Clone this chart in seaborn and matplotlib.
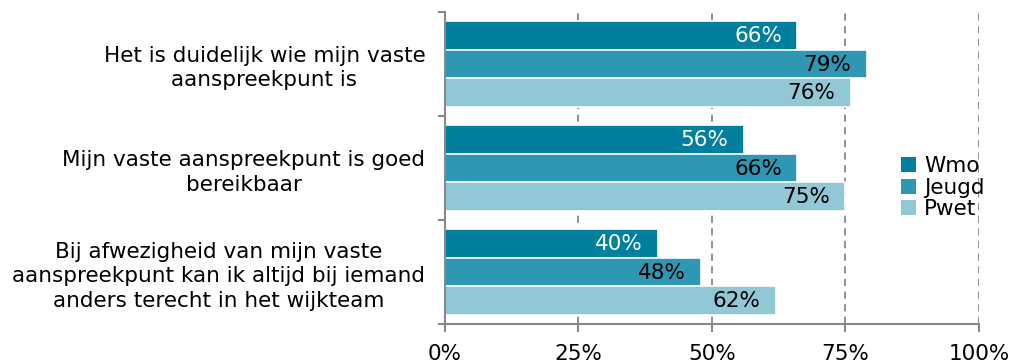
import matplotlib
matplotlib.use("Agg")
import matplotlib.pyplot as plt
import seaborn as sns
import pandas as pd
import numpy as np
from matplotlib.patches import Patch

categories = [
    "Het is duidelijk wie mijn vaste\naanspreekpunt is",
    "Mijn vaste aanspreekpunt is goed\nbereikbaar",
    "Bij afwezigheid van mijn vaste\naanspreekpunt kan ik altijd bij iemand\nanders terecht in het wijkteam",
]
series = ["Wmo", "Jeugd", "Pwet"]
wmo = [66, 56, 40]
jeugd = [79, 66, 48]
pwet = [76, 75, 62]
colors = ["#007F9E", "#2E97B4", "#92C7D5"]
label_colors = ["white", "black", "black"]
xticks = [0, 25, 50, 75, 100]
xticklabels = ["0%", "25%", "50%", "75%", "100%"]

rows = []
for s, vals in zip(series, [wmo, jeugd, pwet]):
    for c, v in zip(categories, vals):
        rows.append({"cat": c, "series": s, "value": v})
df = pd.DataFrame(rows)

sns.set_theme(style="white")
plt.rcParams["font.family"] = ["DejaVu Sans"]
FS = 15.5

fig = plt.figure(figsize=(10.13, 3.63), dpi=100)
ax = fig.add_axes([0.439, 0.107, 0.5275, 0.860])

sns.barplot(data=df, y="cat", x="value", hue="series", order=categories,
            hue_order=series, palette=colors, orient="h", width=0.82,
            edgecolor="white", linewidth=1.2, saturation=1, ax=ax, legend=False)

for cont, lc in zip(ax.containers, label_colors):
    for rect, v in zip(cont.patches, cont.datavalues):
        ax.annotate(f"{v:.0f}%", xy=(rect.get_x() + rect.get_width(),
                                    rect.get_y() + rect.get_height() / 2),
                    xytext=(-11, -0.5), textcoords="offset points",
                    ha="right", va="center", color=lc, fontsize=FS)

ax.set_xlim(0, 100)
ax.set_ylim(2.5, -0.5)
ax.set_xticks(xticks)
ax.set_xticklabels(xticklabels, fontsize=FS, color="black")
ax.set_yticks(range(len(categories)))
ax.set_yticklabels(categories, fontsize=FS, color="black", ha="right",
                   multialignment="center", linespacing=1.28)
for t in ax.get_yticklabels():
    t.set_y(t.get_position()[1])
ax.tick_params(axis="y", which="major", length=0, pad=14)
ax.set_yticks([-0.5, 0.5, 1.5, 2.5], minor=True)
ax.tick_params(axis="y", which="minor", length=5, color="#888888", width=1.5, left=True)
ax.tick_params(axis="x", which="major", length=6, color="#888888", width=1.5,
               bottom=True, pad=8)
ax.set_xlabel("")
ax.set_ylabel("")

for x in xticks[1:]:
    ax.axvline(x, color="#888888", linestyle=(0, (4, 3)), linewidth=1.3, zorder=0)

for side in ["top", "right"]:
    ax.spines[side].set_visible(False)
for side in ["left", "bottom"]:
    ax.spines[side].set_color("#888888")
    ax.spines[side].set_linewidth(1.5)

handles = [Patch(facecolor=c, edgecolor="none") for c in colors]
fig.legend(handles, series, loc="center left", bbox_to_anchor=(0.879, 0.483),
           frameon=False, fontsize=FS, handlelength=0.7, handleheight=0.7,
           handletextpad=0.35, labelspacing=0.08, borderpad=0, labelcolor="black")

fig.savefig("out.png", dpi=100)
